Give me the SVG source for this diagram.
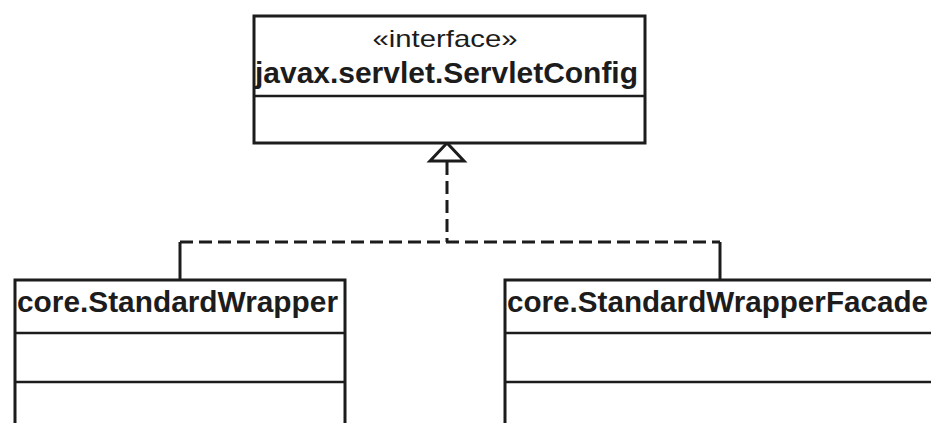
<svg xmlns="http://www.w3.org/2000/svg" width="931" height="423" viewBox="0 0 931 423">
<style>
.box{fill:#fff;stroke:#1c1c1c;stroke-width:3}
.div{stroke:#1c1c1c;stroke-width:2.5}
.name{font-family:"Liberation Sans",Arial,sans-serif;font-weight:bold;font-size:30px;fill:#1c1c1c}
.stereo{font-family:"Liberation Sans",Arial,sans-serif;font-size:24px;fill:#1c1c1c}
.conn{fill:none;stroke:#1c1c1c;stroke-width:3}
.dash{stroke-dasharray:13 6}
</style>
<rect width="931" height="423" fill="#fff"/>
<g id="connectors">
<path class="conn dash" d="M447,162 V242"/>
<path class="conn dash" d="M180,242 H720"/>
<path class="conn" d="M180,242 V280"/>
<path class="conn" d="M720,242 V280"/>
<polygon points="447,143 430,161 464,161" fill="#fff" stroke="#1c1c1c" stroke-width="3" stroke-linejoin="miter"/>
</g>
<g id="servletconfig">
<rect class="box" x="254" y="16" width="391" height="127"/>
<line class="div" x1="254" y1="96" x2="645" y2="96"/>
<text class="stereo" x="445" y="47" text-anchor="middle" textLength="145" lengthAdjust="spacingAndGlyphs">«interface»</text>
<text class="name" x="255" y="83" textLength="383" lengthAdjust="spacingAndGlyphs">javax.servlet.ServletConfig</text>
</g>
<g id="standardwrapper">
<rect class="box" x="15" y="280" width="330" height="160"/>
<line class="div" x1="15" y1="333" x2="345" y2="333"/>
<line class="div" x1="15" y1="382" x2="345" y2="382"/>
<text class="name" x="17" y="312" textLength="321" lengthAdjust="spacingAndGlyphs">core.StandardWrapper</text>
</g>
<g id="standardwrapperfacade">
<rect class="box" x="505" y="280" width="440" height="160"/>
<line class="div" x1="505" y1="333" x2="945" y2="333"/>
<line class="div" x1="505" y1="382" x2="945" y2="382"/>
<text class="name" x="507" y="312" textLength="421" lengthAdjust="spacingAndGlyphs">core.StandardWrapperFacade</text>
</g>
</svg>
